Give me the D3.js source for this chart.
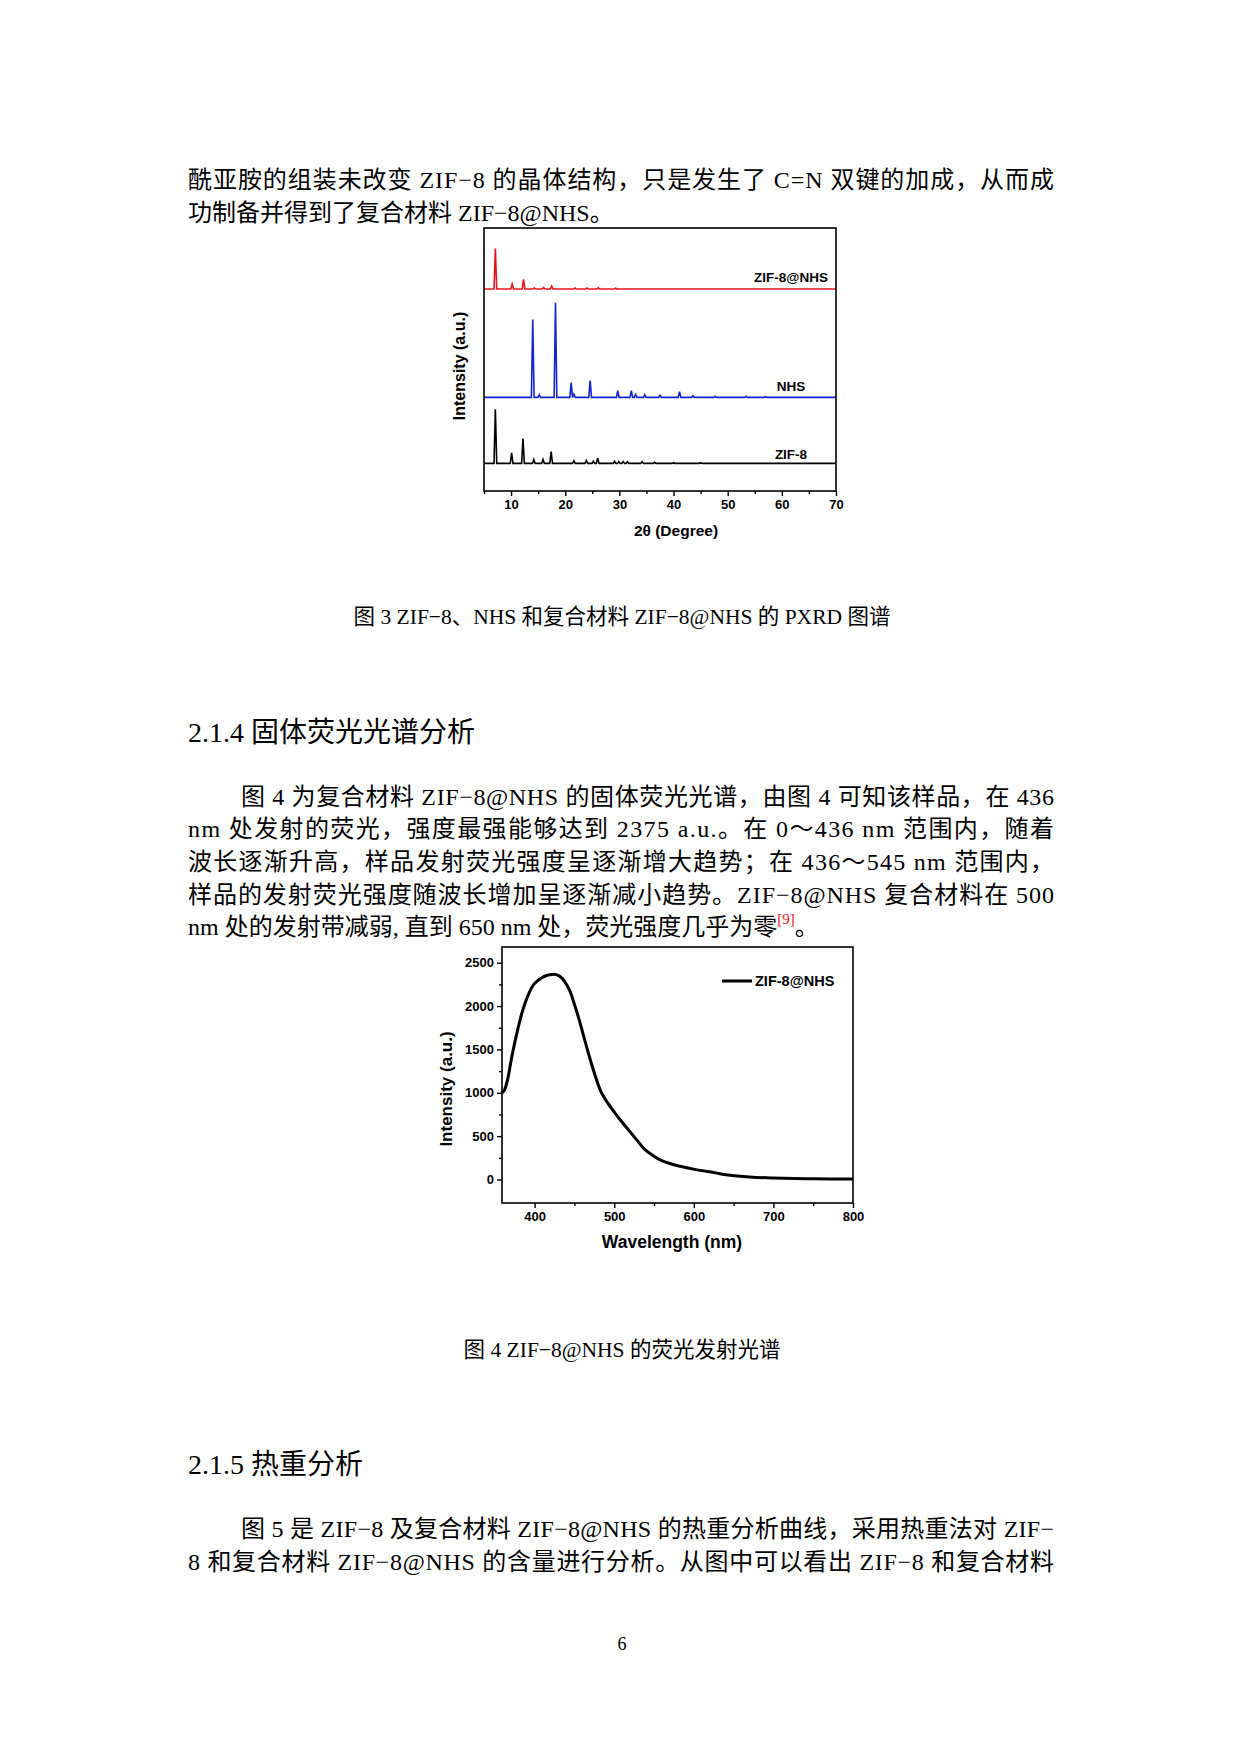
<!DOCTYPE html>
<html><head><meta charset="utf-8">
<script src="https://cdn.jsdelivr.net/npm/d3@7/dist/d3.min.js"></script>
<style>body{margin:0;background:#fff}</style>
</head><body>
<svg id="page" width="1240" height="1754"></svg>
<script>
// PXRD peaks: [2theta, height] per series (height in offset units)
const zifPeaks = [[7.1,20.6],[10.1,4],[12.2,9.4],[14.2,1.5],[15.9,1.5],[17.4,4.5],[21.6,1],[23.9,1.1],[25.2,0.8],[26,2],[29.1,0.8],[29.9,0.7],[30.7,0.7],[31.5,0.6],[34.2,0.7],[36.5,0.4],[40,0.3],[45,0.3]];
const nhsPeaks = [[14,29.6],[15.2,1],[18.2,36],[21.1,5.6],[21.6,1.2],[24.6,6.4],[29.7,2.6],[32.2,2.6],[33,1.1],[34.7,1],[37.5,0.8],[41.1,2.2],[43.6,0.6],[47.7,0.4],[53.4,0.4],[57,0.3]];
const hybPeaks = [[7.1,15.4],[10.2,1.9],[12.3,3.7],[14.3,0.4],[16,0.6],[17.5,1.1],[21.8,0.4],[24,0.4],[26.1,0.5],[29.3,0.3]];
const pxrdSeries = [
  {name:"ZIF-8@NHS", base:76.8, color:"#e8141b", peaks:hybPeaks},
  {name:"NHS", base:35.6, color:"#1522d6", peaks:nhsPeaks},
  {name:"ZIF-8", base:10.5, color:"#000", peaks:zifPeaks}
];
const pxrdTicks = [10,20,30,40,50,60,70];

// fluorescence emission spectrum
const wl = [359,362,366,371,378,385,392,399,408,416,422,427,432,438,444,450,456,462,469,476,483,492,501,510,518,528,538,548,559,575,601,625,643,670,713,750,800];
const inten = [1000,1030,1150,1400,1700,1950,2130,2250,2320,2355,2365,2362,2340,2280,2180,2020,1840,1640,1410,1200,1020,880,765,660,570,460,350,280,220,170,117,80,52,30,13,8,5];
const flTicksX = [400,500,600,700,800];
const flTicksY = [0,500,1000,1500,2000,2500];

const svg = d3.select("#page");
const serif = "'Liberation Serif','Noto Sans CJK SC',serif";
const sans = "'Liberation Sans',Arial,sans-serif";

function txt(x, y, s, size, opts = {}) {
  const t = svg.append("text").attr("x", x).attr("y", y).attr("font-family", opts.font || serif)
    .attr("font-size", size).attr("text-anchor", opts.anchor || "start").attr("dominant-baseline", "central")
    .attr("fill", "#000").text(s);
  if (opts.width) t.attr("textLength", opts.width).attr("lengthAdjust", "spacing");
  return t;
}

// body text
const L = 188, W = 866;
txt(L, 180, "酰亚胺的组装未改变 ZIF−8 的晶体结构，只是发生了 C=N 双键的加成，从而成", 24, {width:W});
txt(L, 213, "功制备并得到了复合材料 ZIF−8@NHS。", 24);
txt(622, 617, "图 3  ZIF−8、NHS 和复合材料 ZIF−8@NHS 的 PXRD 图谱", 21.5, {anchor:"middle"});
txt(L, 732, "2.1.4 固体荧光光谱分析", 28);
txt(241, 797, "图 4 为复合材料 ZIF−8@NHS 的固体荧光光谱，由图 4 可知该样品，在 436", 24, {width:L+W-241});
txt(L, 829, "nm 处发射的荧光，强度最强能够达到 2375  a.u.。在 0～436  nm 范围内，随着", 24, {width:W});
txt(L, 862, "波长逐渐升高，样品发射荧光强度呈逐渐增大趋势；在 436～545  nm 范围内，", 24, {width:W});
txt(L, 895, "样品的发射荧光强度随波长增加呈逐渐减小趋势。ZIF−8@NHS 复合材料在 500", 24, {width:W});
const last = txt(L, 927, "nm 处的发射带减弱, 直到 650  nm 处，荧光强度几乎为零", 24);
last.append("tspan").attr("fill", "#e8141b").attr("font-size", 15).attr("dy", -8).text("[9]");
last.append("tspan").attr("dy", 8).text("。");
txt(622, 1350, "图 4  ZIF−8@NHS 的荧光发射光谱", 21.5, {anchor:"middle"});
txt(L, 1464, "2.1.5 热重分析", 28);
txt(241, 1529, "图 5 是 ZIF−8 及复合材料 ZIF−8@NHS 的热重分析曲线，采用热重法对 ZIF−", 24, {width:L+W-241});
txt(L, 1562, "8 和复合材料 ZIF−8@NHS 的含量进行分析。从图中可以看出 ZIF−8 和复合材料", 24, {width:W});
txt(622, 1644, "6", 18, {anchor:"middle"});

// ---- PXRD chart ----
{
  const m = {l:484, r:836, t:228, b:491};
  const x = d3.scaleLinear().domain([5,70]).range([m.l, m.r]);
  const y = d3.scaleLinear().domain([0,100]).range([m.b, m.t]);
  const g = svg.append("g");
  const line = d3.line().x(d => x(d[0])).y(d => y(d[1]));
  pxrdSeries.forEach(s => {
    const pts = [[5, s.base]];
    s.peaks.forEach(p => { pts.push([p[0]-0.25, s.base], [p[0], s.base + p[1]], [p[0]+0.25, s.base]); });
    pts.push([70, s.base]);
    g.append("path").attr("d", line(pts)).attr("fill", "none").attr("stroke", s.color).attr("stroke-width", 1.6);
  });
  g.append("rect").attr("x", m.l).attr("y", m.t).attr("width", m.r-m.l).attr("height", m.b-m.t)
    .attr("fill", "none").attr("stroke", "#000").attr("stroke-width", 1.6);
  const ax = g.append("g").attr("transform", `translate(0,${m.b})`)
    .call(d3.axisBottom(x).tickValues(d3.range(5,71,5)).tickSize(5).tickFormat(d => pxrdTicks.includes(d) ? d : ""));
  ax.select(".domain").remove();
  ax.selectAll("line").attr("stroke-width", 1.4);
  ax.selectAll("line").filter(d => !pxrdTicks.includes(d)).attr("y2", 3);
  ax.selectAll("text").attr("font-family", sans).attr("font-weight", "bold").attr("font-size", 13).attr("dy", "0.8em");
  const labY = {"ZIF-8@NHS":277, "NHS":386, "ZIF-8":454};
  pxrdSeries.forEach(s => txt(791, labY[s.name], s.name, 13.5, {font:sans, anchor:"middle"}).attr("font-weight", "bold"));
  txt(0, 0, "Intensity (a.u.)", 16, {font:sans, anchor:"middle"}).attr("font-weight", "bold")
    .attr("transform", "translate(459,366) rotate(-90)");
  txt(676, 530, "2θ (Degree)", 15.5, {font:sans, anchor:"middle"}).attr("font-weight", "bold");
}

// ---- Fluorescence chart ----
{
  const m = {l:502, r:853, t:947, b:1203};
  const x = d3.scaleLinear().domain([359,800]).range([m.l, m.r]);
  const y = d3.scaleLinear().domain([-271,2681]).range([m.b, m.t]);
  const g = svg.append("g");
  const data = wl.map((w, i) => [w, inten[i]]);
  g.append("path").attr("d", d3.line().curve(d3.curveCatmullRom).x(d => x(d[0])).y(d => y(d[1]))(data))
    .attr("fill", "none").attr("stroke", "#000").attr("stroke-width", 3);
  g.append("rect").attr("x", m.l).attr("y", m.t).attr("width", m.r-m.l).attr("height", m.b-m.t)
    .attr("fill", "none").attr("stroke", "#000").attr("stroke-width", 1.6);
  const ax = g.append("g").attr("transform", `translate(0,${m.b})`)
    .call(d3.axisBottom(x).tickValues(d3.range(400,801,50)).tickSize(5).tickFormat(d => flTicksX.includes(d) ? d : ""));
  ax.select(".domain").remove();
  ax.selectAll("line").attr("stroke-width", 1.4);
  ax.selectAll("line").filter(d => !flTicksX.includes(d)).attr("y2", 3);
  ax.selectAll("text").attr("font-family", sans).attr("font-weight", "bold").attr("font-size", 13).attr("dy", "0.8em");
  const ay = g.append("g").attr("transform", `translate(${m.l},0)`)
    .call(d3.axisLeft(y).tickValues(d3.range(0,2501,250)).tickSize(5).tickFormat(d => flTicksY.includes(d) ? d : ""));
  ay.select(".domain").remove();
  ay.selectAll("line").attr("stroke-width", 1.4);
  ay.selectAll("line").filter(d => !flTicksY.includes(d)).attr("x2", -3);
  ay.selectAll("text").attr("font-family", sans).attr("font-weight", "bold").attr("font-size", 13);
  g.append("line").attr("x1", 722).attr("x2", 752).attr("y1", 981).attr("y2", 981).attr("stroke", "#000").attr("stroke-width", 3);
  txt(755, 981, "ZIF-8@NHS", 14.5, {font:sans}).attr("font-weight", "bold");
  txt(0, 0, "Intensity (a.u.)", 17, {font:sans, anchor:"middle"}).attr("font-weight", "bold")
    .attr("transform", "translate(446,1089) rotate(-90)");
  txt(672, 1242, "Wavelength (nm)", 17.5, {font:sans, anchor:"middle"}).attr("font-weight", "bold");
}
</script>
</body></html>
